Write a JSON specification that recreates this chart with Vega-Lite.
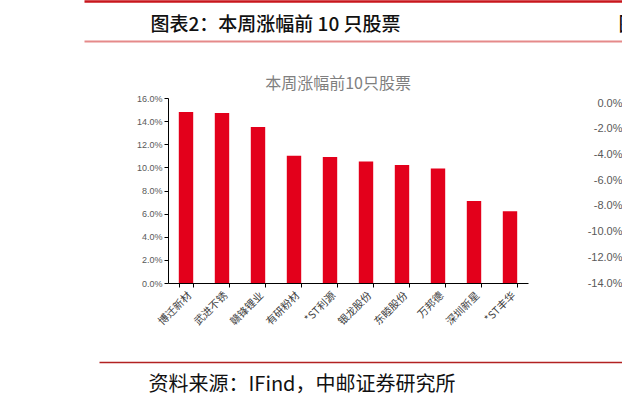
{
  "$schema": "https://vega.github.io/schema/vega-lite/v6.json",
  "padding": {"left": 81, "top": 1, "right": 0, "bottom": 0},
  "bounds": "flush",
  "spacing": 0,
  "config": {
    "font": "Noto Sans CJK SC",
    "view": {"stroke": null}
  },
  "datasets": {
    "top10": [
      {"stock": "博迁新材", "change": 0.148},
      {"stock": "武进不锈", "change": 0.147},
      {"stock": "赣锋锂业", "change": 0.135},
      {"stock": "有研粉材", "change": 0.110},
      {"stock": "*ST利源", "change": 0.109},
      {"stock": "银龙股份", "change": 0.105},
      {"stock": "东睦股份", "change": 0.102},
      {"stock": "万邦德", "change": 0.099},
      {"stock": "深圳新星", "change": 0.071},
      {"stock": "*ST丰华", "change": 0.062}
    ]
  },
  "vconcat": [
    {
      "width": 360,
      "height": 40,
      "data": {"values": [{}]},
      "mark": {"type": "point", "opacity": 0},
      "encoding": {
        "x": {
          "datum": 0,
          "type": "quantitative",
          "scale": {"domain": [0, 1], "range": [-84, 457]},
          "axis": {
            "orient": "top",
            "domainColor": "#C8161D",
            "domainWidth": 2.5,
            "ticks": false,
            "labels": false,
            "grid": false,
            "title": "图表2：本周涨幅前 10 只股票",
            "titleX": -18,
            "titleY": 29,
            "titleAlign": "left",
            "titleBaseline": "alphabetic",
            "titleFontSize": 19,
            "titleFontWeight": 500,
            "titleColor": "#111111"
          }
        }
      }
    },
    {
      "width": 360,
      "height": 57,
      "data": {"values": [{}]},
      "mark": {"type": "point", "opacity": 0},
      "encoding": {
        "x": {
          "datum": 0,
          "type": "quantitative",
          "scale": {"domain": [0, 1], "range": [-84, 457]},
          "axis": {
            "orient": "top",
            "domainColor": "#E58A8A",
            "domainWidth": 2,
            "ticks": false,
            "labels": false,
            "grid": false,
            "title": "图表3：本周跌幅前 10 只股票",
            "titleX": 450,
            "titleY": -11,
            "titleAlign": "left",
            "titleBaseline": "alphabetic",
            "titleFontSize": 19,
            "titleFontWeight": 500,
            "titleColor": "#111111"
          }
        }
      }
    },
    {
      "bounds": "flush",
      "spacing": 101,
      "hconcat": [
        {
          "width": 360,
          "height": 185,
          "data": {"name": "top10"},
          "title": {
            "text": "本周涨幅前10只股票",
            "fontSize": 16,
            "fontWeight": "normal",
            "color": "#7F7F7F",
            "offset": 2,
            "dx": -10
          },
          "mark": {"type": "bar", "color": "#E3001B"},
          "encoding": {
            "x": {
              "field": "stock",
              "type": "nominal",
              "sort": null,
              "scale": {"paddingInner": 0.6, "paddingOuter": 0.3},
              "axis": {
                "title": null,
                "labelAngle": -45,
                "labelFontSize": 10.5,
                "labelColor": "#404040",
                "labelPadding": 3,
                "domainColor": "#000000",
                "tickColor": "#000000",
                "tickBand": "extent",
                "tickSize": 4
              }
            },
            "y": {
              "field": "change",
              "type": "quantitative",
              "scale": {"domain": [0, 0.16], "nice": false},
              "axis": {
                "title": null,
                "values": [0, 0.02, 0.04, 0.06, 0.08, 0.1, 0.12, 0.14, 0.16],
                "format": ".1%",
                "grid": false,
                "labelFont": "Liberation Sans",
                "labelFontSize": 9,
                "labelColor": "#595959",
                "domainColor": "#000000",
                "tickColor": "#000000",
                "tickSize": 4
              }
            }
          }
        },
        {
          "width": 100,
          "height": 185,
          "data": {"values": [{"v": 0}]},
          "mark": {"type": "point", "opacity": 0},
          "encoding": {
            "y": {
              "field": "v",
              "type": "quantitative",
              "scale": {"domain": [-0.14, 0.004], "nice": false, "zero": false},
              "axis": {
                "title": null,
                "values": [0, -0.02, -0.04, -0.06, -0.08, -0.1, -0.12, -0.14],
                "format": ".1%",
                "labelExpr": "replace(datum.label, '−', '-')",
                "grid": false,
                "labelFont": "Liberation Sans",
                "labelFontSize": 11,
                "labelColor": "#595959",
                "labelPadding": 7,
                "domain": false,
                "ticks": false
              }
            }
          }
        }
      ]
    },
    {
      "width": 360,
      "height": 119,
      "data": {"values": [{}]},
      "mark": {"type": "point", "opacity": 0},
      "encoding": {
        "x": {
          "datum": 0,
          "type": "quantitative",
          "scale": {"domain": [0, 1], "range": [-69, 457]},
          "axis": {
            "orient": "top",
            "offset": -264,
            "domainColor": "#B22222",
            "domainWidth": 1.5,
            "ticks": false,
            "labels": false,
            "grid": false,
            "title": "资料来源：IFind，中邮证券研究所",
            "titleX": -20,
            "titleY": 28,
            "titleAlign": "left",
            "titleBaseline": "alphabetic",
            "titleFontSize": 20,
            "titleFontWeight": "normal",
            "titleColor": "#111111"
          }
        }
      }
    }
  ]
}
